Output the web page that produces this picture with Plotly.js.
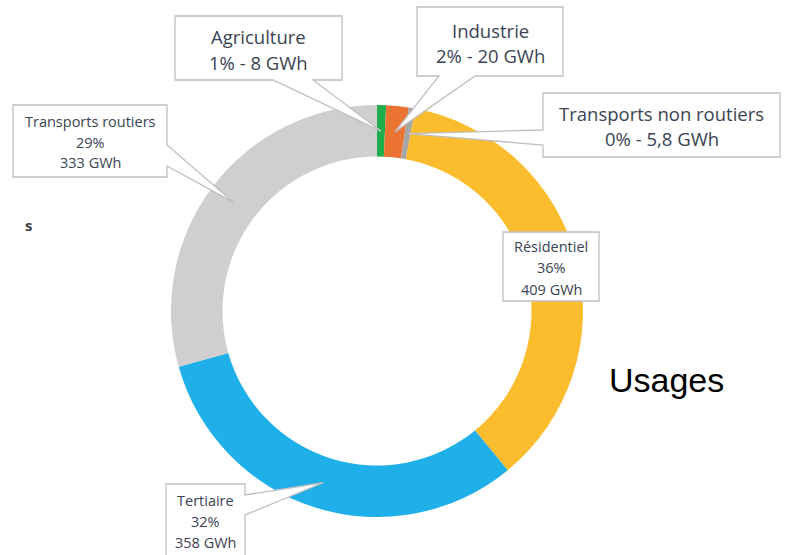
<!DOCTYPE html>
<html>
<head>
<meta charset="utf-8">
<script src="https://cdn.plot.ly/plotly-3.0.1.min.js"></script>
<style>html,body{margin:0;padding:0;background:#fff}#chart{width:786px;height:555px}</style>
</head>
<body>
<div id="chart"></div>
<script>
// ---- Data ----
const categories = ["Agriculture", "Industrie", "Transports non routiers", "Résidentiel", "Tertiaire", "Transports routiers"];
const valuesGWh = [8, 20, 5.8, 409, 358, 333];
const pctLabels = ["1%", "2%", "0%", "36%", "32%", "29%"];
const colors = ["#1fae4b", "#ec7433", "#a6a6a6", "#fbbd2e", "#1fb0ea", "#d0cece"];

// ---- Layout constants ----
const W = 786, H = 555;
const CX = 377, CY = 311, R_OUT = 206, HOLE = 0.75, R_TIP = 180;
const TEXT_COLOR = "#3a4454";
const BOX_LINE = "#bfbfbf";

// callout layout per category (same order as categories)
const callouts = [
  {box: [175, 16, 342, 80], side: "bottom", base: [273, 313], lines: [37, 63], size: 18.5, style: "big"},
  {box: [417, 7, 563, 76], side: "bottom", base: [439, 475], lines: [30, 56], size: 18.5, style: "big"},
  {box: [543, 93, 780, 157], side: "left", base: [130, 145], lines: [113, 138], size: 18.5, style: "big"},
  {box: [503, 232, 599, 301], side: "none", base: null, lines: [246, 267.5, 289], size: 14.5, style: "small"},
  {box: [166, 484, 245, 562], side: "right", base: [495, 515], lines: [500, 521, 542], size: 14.5, style: "small"},
  {box: [13, 105, 167, 177], side: "right", base: [145, 166], lines: [121.5, 142, 162.5], size: 14.5, style: "small"}
];

const px = x => x / W;
const py = y => 1 - y / H;
const P = p => px(p[0]).toFixed(5) + "," + py(p[1]).toFixed(5);

const total = valuesGWh.reduce((a, b) => a + b, 0);
let cum = 0;
const tips = valuesGWh.map(v => {
  const mid = (cum + v / 2) / total * 2 * Math.PI;
  cum += v;
  return [CX + R_TIP * Math.sin(mid), CY - R_TIP * Math.cos(mid)];
});

const fmt = v => String(v).replace(".", ",");

const shapes = [];
const annotations = [];
callouts.forEach((c, i) => {
  const [x0, y0, x1, y1] = c.box;
  const t = tips[i];
  let pts;
  if (c.side === "bottom") {
    pts = [[x0, y0], [x1, y0], [x1, y1], [c.base[1], y1], t, [c.base[0], y1], [x0, y1]];
  } else if (c.side === "left") {
    pts = [[x0, y0], [x1, y0], [x1, y1], [x0, y1], [x0, c.base[1]], t, [x0, c.base[0]]];
  } else if (c.side === "right") {
    pts = [[x0, y0], [x1, y0], [x1, c.base[0]], t, [x1, c.base[1]], [x1, y1], [x0, y1]];
  } else {
    pts = [[x0, y0], [x1, y0], [x1, y1], [x0, y1]];
  }
  shapes.push({
    type: "path", xref: "paper", yref: "paper", layer: "above",
    path: "M" + pts.map(P).join("L") + "Z",
    fillcolor: "#ffffff", line: {color: BOX_LINE, width: 1.3}
  });
  const texts = c.style === "big"
    ? [categories[i], pctLabels[i] + " - " + fmt(valuesGWh[i]) + " GWh"]
    : [categories[i], pctLabels[i], fmt(valuesGWh[i]) + " GWh"];
  texts.forEach((txt, k) => {
    annotations.push({
      xref: "paper", yref: "paper", x: px((x0 + x1) / 2), y: py(c.lines[k]),
      xanchor: "center", yanchor: "middle", showarrow: false, text: txt,
      font: {family: "Open Sans, sans-serif", size: c.size, color: TEXT_COLOR}
    });
  });
});

annotations.push({
  xref: "paper", yref: "paper", x: px(29), y: py(225), xanchor: "center", yanchor: "middle",
  showarrow: false, text: "<b>s</b>", font: {family: "Open Sans, sans-serif", size: 15, color: "#404040"}
});
annotations.push({
  xref: "paper", yref: "paper", x: px(666), y: py(380), xanchor: "center", yanchor: "middle",
  showarrow: false, text: "Usages", font: {family: "Liberation Sans, Arial, sans-serif", size: 34, color: "#000000"}
});

const trace = {
  type: "pie",
  labels: categories,
  values: valuesGWh,
  hole: HOLE,
  sort: false,
  direction: "clockwise",
  rotation: 0,
  textinfo: "none",
  hoverinfo: "label+value+percent",
  marker: {colors: colors, line: {width: 0}},
  domain: {x: [px(CX - R_OUT), px(CX + R_OUT)], y: [py(CY + R_OUT), py(CY - R_OUT)]}
};

const layout = {
  width: W, height: H,
  margin: {l: 0, r: 0, t: 0, b: 0},
  paper_bgcolor: "#ffffff",
  showlegend: false,
  shapes: shapes,
  annotations: annotations
};

Plotly.newPlot("chart", [trace], layout, {displayModeBar: false, staticPlot: true});
</script>
</body>
</html>
